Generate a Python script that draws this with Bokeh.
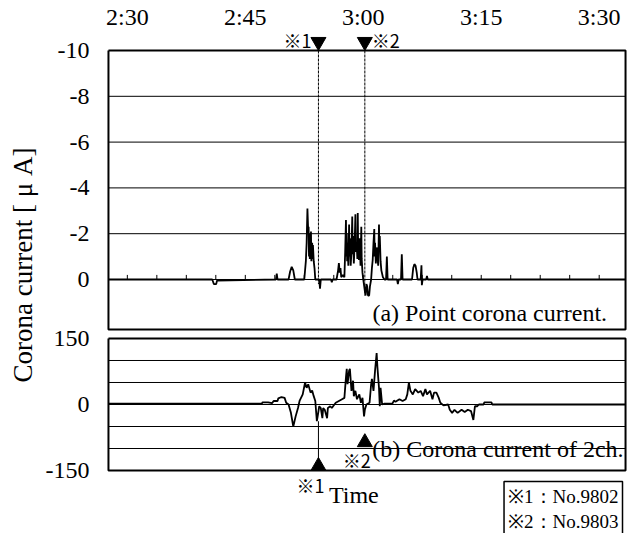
import numpy as np
from bokeh.plotting import figure
from bokeh.models import Range1d, FixedTicker, Label, Title
from bokeh.embed import file_html
from bokeh.resources import INLINE

# ---------------- data ----------------
# time in minutes after 2:00
time_ticks = [30, 45, 60, 75, 90]
time_labels = ["2:30", "2:45", "3:00", "3:15", "3:30"]

top_ticks = [-10, -8, -6, -4, -2, 0]
bottom_ticks = [150, 0, -150]
bottom_grid = [100, 50, 0, -50, -100]

# (a) point corona current [uA]
point_t = [27.6, 40.8, 41.0, 41.3, 41.4, 48.9, 49.0, 49.1,
           50.5, 50.7, 50.9, 51.1, 51.3,
           52.5, 52.7, 52.8, 52.9, 53.0, 53.05, 53.1, 53.15, 53.2, 53.25, 53.3, 53.35,
           53.4, 53.5, 53.55, 53.6, 53.7, 53.8, 53.9,
           54.4, 54.5, 54.6, 55.9, 56.0, 56.1,
           56.6, 56.8, 56.9, 57.0, 57.1, 57.2, 57.4, 57.6,
           57.7, 57.8, 57.85, 57.9, 57.95, 58.0, 58.1, 58.2, 58.25, 58.3, 58.4, 58.5,
           58.6, 58.65, 58.7, 58.8, 58.9, 59.0, 59.05, 59.15, 59.25, 59.3, 59.35, 59.45,
           59.55, 59.65, 59.75, 59.8, 59.9, 60.0,
           60.2, 60.3, 60.4, 60.5, 60.6, 60.75, 60.85, 61.0,
           61.1, 61.2, 61.3, 61.4, 61.45, 61.5, 61.6, 61.7, 61.8, 61.9, 62.0, 62.05,
           62.1, 62.2, 62.3, 62.5, 62.7,
           62.9, 63.0, 63.1, 64.3, 64.4, 64.5, 64.8, 64.9, 65.0,
           66.2, 66.35, 66.5, 66.65, 66.8, 66.9,
           67.3, 67.4, 67.45, 67.55, 68.0, 68.1, 68.2, 93.4]
point_i = [0, 0, 0.2, 0.2, 0.05, 0, -0.26, 0,
           0, -0.35, -0.55, -0.4, 0,
           0, -0.8, -1.6, -3.1, -2.1, -2.3, -1.0, -2.0, -0.9, -1.9, -1.2, -2.1,
           -0.8, -1.6, -0.9, -1.5, -0.8, -0.5, 0,
           0, 0.4, 0, 0, 0.12, 0,
           0, -0.4, -0.72, -0.3, -0.5, -0.1, -0.2, -0.1,
           -1.2, -2.6, -1.0, -2.0, -0.8, -1.6, -0.6, -2.4, -1.0, -1.8, -0.6, -1.2,
           -2.75, -1.1, -1.9, -0.7, -1.5, -2.85, -1.2, -1.6, -0.9, -2.9, -1.4, -0.85,
           -1.8, -0.6, -2.3, -0.9, -0.3, 0,
           0.5, 0.7, 0.2, 0.3, 0.7, 0.7, 0.3, 0,
           -0.5, -0.85, -1.6, -2.2, -1.0, -1.6, -0.7, -1.4, -1.0, -0.6, -2.4, -1.2,
           -1.9, -0.8, -0.4, -0.1, 0,
           0, -1.0, 0, 0, 0.2, 0, 0, -1.1, 0,
           0, -0.5, -0.67, -0.6, -0.3, 0,
           0, -0.62, 0.25, 0, 0, -0.15, 0, 0]

# (b) corona current of 2ch
ch2_t = [27.6, 47.1, 47.2, 47.9, 48.4, 48.6, 49.1, 49.2, 49.6, 50.0, 50.2, 50.5,
         50.8, 51.1, 51.4, 51.7, 51.9, 52.3, 52.6, 52.8, 53.0, 53.3, 53.5, 53.7, 53.9,
         54.1, 54.2, 54.4, 54.6, 54.8, 54.9, 55.1, 55.4, 55.5, 55.8, 56.0,
         56.5, 56.9, 57.3, 57.6, 57.8, 57.9, 58.0, 58.2, 58.3, 58.5, 58.7, 58.8,
         59.0, 59.2, 59.5, 59.7, 59.9, 60.1, 60.2, 60.4, 60.8,
         61.0, 61.1, 61.3, 61.5, 61.7, 61.8, 62.0, 62.1, 62.2, 62.4,
         62.7, 63.7, 63.9, 64.1, 64.6, 65.0, 65.4,
         65.6, 65.8, 66.0, 66.3, 66.6, 67.0, 67.3, 67.6, 67.9, 68.1, 68.5, 68.8,
         69.0, 69.3, 69.6, 69.8, 70.2, 70.8,
         71.0, 71.3, 71.6, 72.0, 72.5, 72.9, 73.3, 73.7, 74.0, 74.2, 74.5, 74.7,
         75.3, 75.4, 76.3, 76.4, 93.4]
ch2_i = [2, 2, 5, 5, 3, 8, 8, 14, 17, 15, 4, 0,
         -19, -50, -27, -8, 8, 23, 50, 38, 46, 27, 32, 19, 8,
         -38, -27, -4, -8, -31, -8, -12, -31, -8, -4, -8,
         4, 8, 12, 15, 62, 81, 46, 77, 81, 31, 54, 19,
         31, 12, 23, 4, 15, -27, -12, 0, 4,
         46, 58, 31, 77, 117, 85, 38, -4, 38, 0,
         2, 2, 9, 6, 12, 8, 12,
         23, 50, 31, 23, 35, 27, 31, 19, 35, 23, 31, 12,
         27, 27, 15, 4, -2, 0,
         -12, -19, -12, -19, -12, -17, -12, -15, -35, -4, -4, 0,
         0, 5, 5, 0, 0]

event_names = ["※1", "※2"]
event_times = [54.3, 60.2]
event_ids = ["No.9802", "No.9803"]
top_line_end = [0.2, 0.7]
ch2_dip = [-38, -27]

# ---------------- figure ----------------
TOP_LO, TOP_HI = 11.092, -10.786     # top panel range (inverted)
CH2_LO, CH2_HI = -293.18, 845.45     # bottom panel range
X_LO, X_HI = 27.35, 93.6
BOX_L, BOX_R = 27.6, 93.35
TOP_BOX = (-10, 2.18)
CH2_BOX = (150, -150)

FONT = "Liberation Serif"
CJK = "Noto Sans CJK JP"

p = figure(width=627, height=533, output_backend="svg", toolbar_location=None,
           x_range=Range1d(X_LO, X_HI), y_range=Range1d(TOP_LO, TOP_HI),
           x_axis_location="above", y_axis_location="left",
           min_border_left=97, min_border_right=0, min_border_top=32,
           min_border_bottom=0)
p.extra_y_ranges = {"ch2": Range1d(CH2_LO, CH2_HI)}
p.outline_line_color = None
p.grid.visible = False
p.background_fill_color = "white"
p.border_fill_color = "white"


def to_top(b):
    return TOP_LO + (b - CH2_LO) * (TOP_HI - TOP_LO) / (CH2_HI - CH2_LO)


# x axis (top)
xa = p.xaxis[0]
xa.ticker = FixedTicker(ticks=time_ticks, minor_ticks=[])
xa.major_label_overrides = dict(zip(time_ticks, time_labels))
xa.axis_line_color = None
xa.major_tick_line_color = None
xa.minor_tick_line_color = None
xa.major_tick_out = 0
xa.major_tick_in = 0
xa.major_label_standoff = 3
xa.major_label_text_font = FONT
xa.major_label_text_font_size = "24px"
xa.major_label_text_color = "black"

# y axis (left) carrying labels for both panels
bt = [to_top(b) for b in bottom_ticks]
ya = p.yaxis[0]
ya.ticker = FixedTicker(ticks=top_ticks + bt, minor_ticks=[])
overrides = {t: str(t) for t in top_ticks}
overrides.update({v: str(b) for v, b in zip(bt, bottom_ticks)})
ya.major_label_overrides = overrides
ya.axis_line_color = None
ya.major_tick_line_color = None
ya.minor_tick_line_color = None
ya.major_tick_out = 0
ya.major_tick_in = 0
ya.major_label_standoff = 17
ya.major_label_text_font = FONT
ya.major_label_text_font_size = "24px"
ya.major_label_text_color = "black"

# y title spanning both panels
p.add_layout(Title(text="Corona current [ μ A]", align="right", offset=115,
                   text_font=FONT, text_font_size="27px",
                   text_font_style="normal", text_color="black"), "left")

# panel frames
p.multi_line(xs=[[BOX_L, BOX_R, BOX_R, BOX_L, BOX_L]],
             ys=[[TOP_BOX[0], TOP_BOX[0], TOP_BOX[1], TOP_BOX[1], TOP_BOX[0]]],
             line_color="black", line_width=2)
p.multi_line(xs=[[BOX_L, BOX_R, BOX_R, BOX_L, BOX_L]],
             ys=[[CH2_BOX[0], CH2_BOX[0], CH2_BOX[1], CH2_BOX[1], CH2_BOX[0]]],
             y_range_name="ch2", line_color="black", line_width=2)

# grid lines
g_top = top_ticks[1:]
p.segment(x0=[BOX_L] * len(g_top), x1=[BOX_R] * len(g_top), y0=g_top, y1=g_top,
          line_color="black", line_width=1)
p.segment(x0=[BOX_L] * len(bottom_grid), x1=[BOX_R] * len(bottom_grid),
          y0=bottom_grid, y1=bottom_grid, y_range_name="ch2",
          line_color="black", line_width=1)

# small ticks on the zero line of the top panel
mt = list(np.arange(time_ticks[0], time_ticks[-1] + 0.01, 3.75))
p.segment(x0=mt, x1=mt, y0=[0] * len(mt), y1=[-0.2] * len(mt),
          line_color="black", line_width=1)

# data traces
p.line(point_t, point_i, line_color="black", line_width=1.8)
p.line(ch2_t, ch2_i, y_range_name="ch2", line_color="black", line_width=1.8)

# event markers (top)
p.segment(x0=event_times, x1=event_times, y0=[-10, -10], y1=top_line_end,
          line_color="black", line_width=1, line_dash="3 1")
p.scatter(event_times, [-10.38, -10.38], marker="inverted_triangle", size=15,
          color="black")
# event markers (bottom)
p.segment(x0=[event_times[0]], x1=[event_times[0]], y0=[ch2_dip[0]], y1=[-140],
          y_range_name="ch2", line_color="black", line_width=1)
p.scatter(event_times, [-140, -86], marker="triangle", size=15, color="black",
          y_range_name="ch2")


# texts
def lab(**kw):
    kw.setdefault("text_font", FONT)
    kw.setdefault("text_color", "black")
    p.add_layout(Label(**kw))


lab(x=91.0, y=1.48, text="(a) Point corona current.", text_align="right",
    text_baseline="alphabetic", text_font_size="24px")
lab(x=93.1, y=-100, y_range_name="ch2", text="(b) Corona current of 2ch.",
    text_align="right", text_baseline="alphabetic", text_font_size="24px")
lab(x=58.8, y=-205, y_range_name="ch2", text="Time", text_align="center",
    text_baseline="alphabetic", text_font_size="24px")

lab(x=event_times[0], x_offset=-7, y=-10.44, text=event_names[0],
    text_align="right", text_baseline="middle", text_font=CJK, text_font_size="18px")
lab(x=event_times[1], x_offset=7, y=-10.44, text=event_names[1],
    text_align="left", text_baseline="middle", text_font=CJK, text_font_size="18px")
lab(x=event_times[0], x_offset=-8, y=-184, y_range_name="ch2", text=event_names[0],
    text_align="center", text_baseline="middle", text_font=CJK, text_font_size="18px")
lab(x=event_times[1], x_offset=-8, y=-125, y_range_name="ch2", text=event_names[1],
    text_align="center", text_baseline="middle", text_font=CJK, text_font_size="18px")

legend_text = "\n".join(f"{n}：{i}" for n, i in zip(event_names, event_ids))
p.add_layout(Label(x=77.9, y=-175, y_range_name="ch2", text=legend_text,
                   text_align="left", text_baseline="top", text_font=FONT,
                   text_font_size="19px", text_color="black",
                   border_line_color="black", border_line_width=1.5,
                   background_fill_color="white", padding=4))

open("out.html", "w").write(file_html(p, INLINE))
